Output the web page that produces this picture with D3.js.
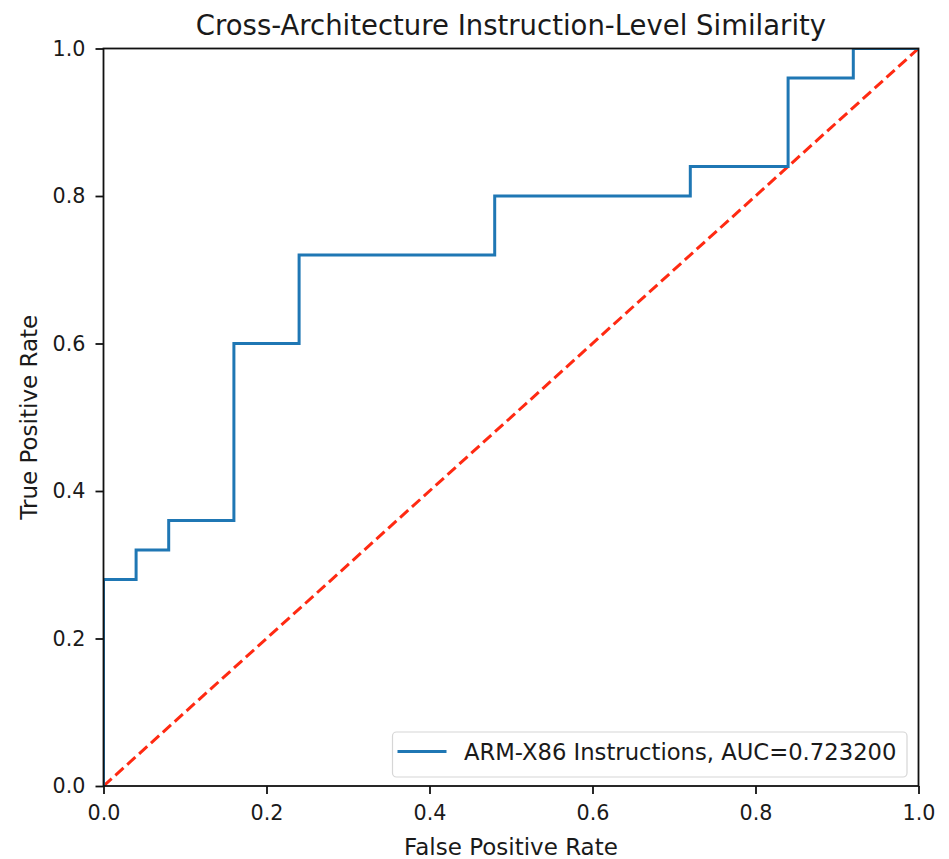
<!DOCTYPE html>
<html>
<head>
<meta charset="utf-8">
<script src="https://cdn.jsdelivr.net/npm/d3@7"></script>
<style>
  body { margin: 0; background: #fff; }
  text { font-family: "DejaVu Sans", sans-serif; fill: #1a1a1a; }
</style>
</head>
<body>
<svg id="chart" width="949" height="859"></svg>
<script>
// ROC curve points
const fpr = [0, 0, 0.04, 0.04, 0.08, 0.08, 0.16, 0.16, 0.24, 0.24, 0.48, 0.48, 0.72, 0.72, 0.84, 0.84, 0.92, 0.92, 1];
const tpr = [0, 0.28, 0.28, 0.32, 0.32, 0.36, 0.36, 0.60, 0.60, 0.72, 0.72, 0.80, 0.80, 0.84, 0.84, 0.96, 0.96, 1, 1];
const chanceLine = [0, 1];
const tickValues = [0, 0.2, 0.4, 0.6, 0.8, 1.0];
const legendLabel = 'ARM-X86 Instructions, AUC=0.723200';

const margin = { left: 103.5, top: 48.5, right: 949 - 918.5, bottom: 859 - 786 };
const svg = d3.select('#chart');
const width = 949 - margin.left - margin.right;
const height = 859 - margin.top - margin.bottom;

const x = d3.scaleLinear().domain([0, 1]).range([margin.left, margin.left + width]);
const y = d3.scaleLinear().domain([0, 1]).range([margin.top + height, margin.top]);

svg.append('clipPath').attr('id', 'clip')
    .append('rect')
    .attr('x', margin.left).attr('y', margin.top)
    .attr('width', width).attr('height', height);

const plot = svg.append('g').attr('clip-path', 'url(#clip)');

// chance diagonal
plot.append('path')
    .datum(chanceLine)
    .attr('d', d3.line().x(d => x(d)).y(d => y(d)))
    .attr('stroke', '#ff2a12')
    .attr('stroke-width', 3)
    .attr('stroke-dasharray', '11,5')
    .attr('fill', 'none');

// roc curve
plot.append('path')
    .datum(fpr.map((f, i) => [f, tpr[i]]))
    .attr('d', d3.line().x(d => x(d[0])).y(d => y(d[1])))
    .attr('stroke', '#1f77b4')
    .attr('stroke-width', 3)
    .attr('fill', 'none');

// frame
svg.append('rect')
    .attr('x', margin.left).attr('y', margin.top)
    .attr('width', width).attr('height', height)
    .attr('fill', 'none').attr('stroke', '#111').attr('stroke-width', 1.8);

const fmt = d3.format('.1f');
const xAxis = svg.append('g')
    .attr('transform', `translate(0,${margin.top + height})`)
    .call(d3.axisBottom(x).tickValues(tickValues).tickFormat(fmt).tickSize(8).tickPadding(11));
const yAxis = svg.append('g')
    .attr('transform', `translate(${margin.left},0)`)
    .call(d3.axisLeft(y).tickValues(tickValues).tickFormat(fmt).tickSize(8).tickPadding(10));

[xAxis, yAxis].forEach(a => {
    a.select('.domain').remove();
    a.selectAll('line').attr('stroke', '#111').attr('stroke-width', 1.8);
    a.selectAll('text').attr('font-size', 20.7).attr('font-family', '"DejaVu Sans", sans-serif').attr('fill', '#1a1a1a');
});

svg.append('text')
    .attr('x', margin.left + width / 2).attr('y', 35)
    .attr('text-anchor', 'middle').attr('font-size', 27.5)
    .text('Cross-Architecture Instruction-Level Similarity');

svg.append('text')
    .attr('x', margin.left + width / 2).attr('y', 855)
    .attr('text-anchor', 'middle').attr('font-size', 23)
    .text('False Positive Rate');

svg.append('text')
    .attr('transform', `translate(37,${margin.top + height / 2}) rotate(-90)`)
    .attr('text-anchor', 'middle').attr('font-size', 23)
    .text('True Positive Rate');

// legend
const legend = svg.append('g');
legend.append('rect')
    .attr('x', 392.5).attr('y', 732).attr('width', 514.5).attr('height', 45).attr('rx', 4)
    .attr('fill', 'rgba(255,255,255,0.8)').attr('stroke', '#d6d6d6').attr('stroke-width', 1.2);
legend.append('line')
    .attr('x1', 397.5).attr('x2', 446.5).attr('y1', 751.5).attr('y2', 751.5)
    .attr('stroke', '#1f77b4').attr('stroke-width', 3);
legend.append('text')
    .attr('x', 464).attr('y', 760).attr('font-size', 22.7)
    .text(legendLabel);
</script>
</body>
</html>
